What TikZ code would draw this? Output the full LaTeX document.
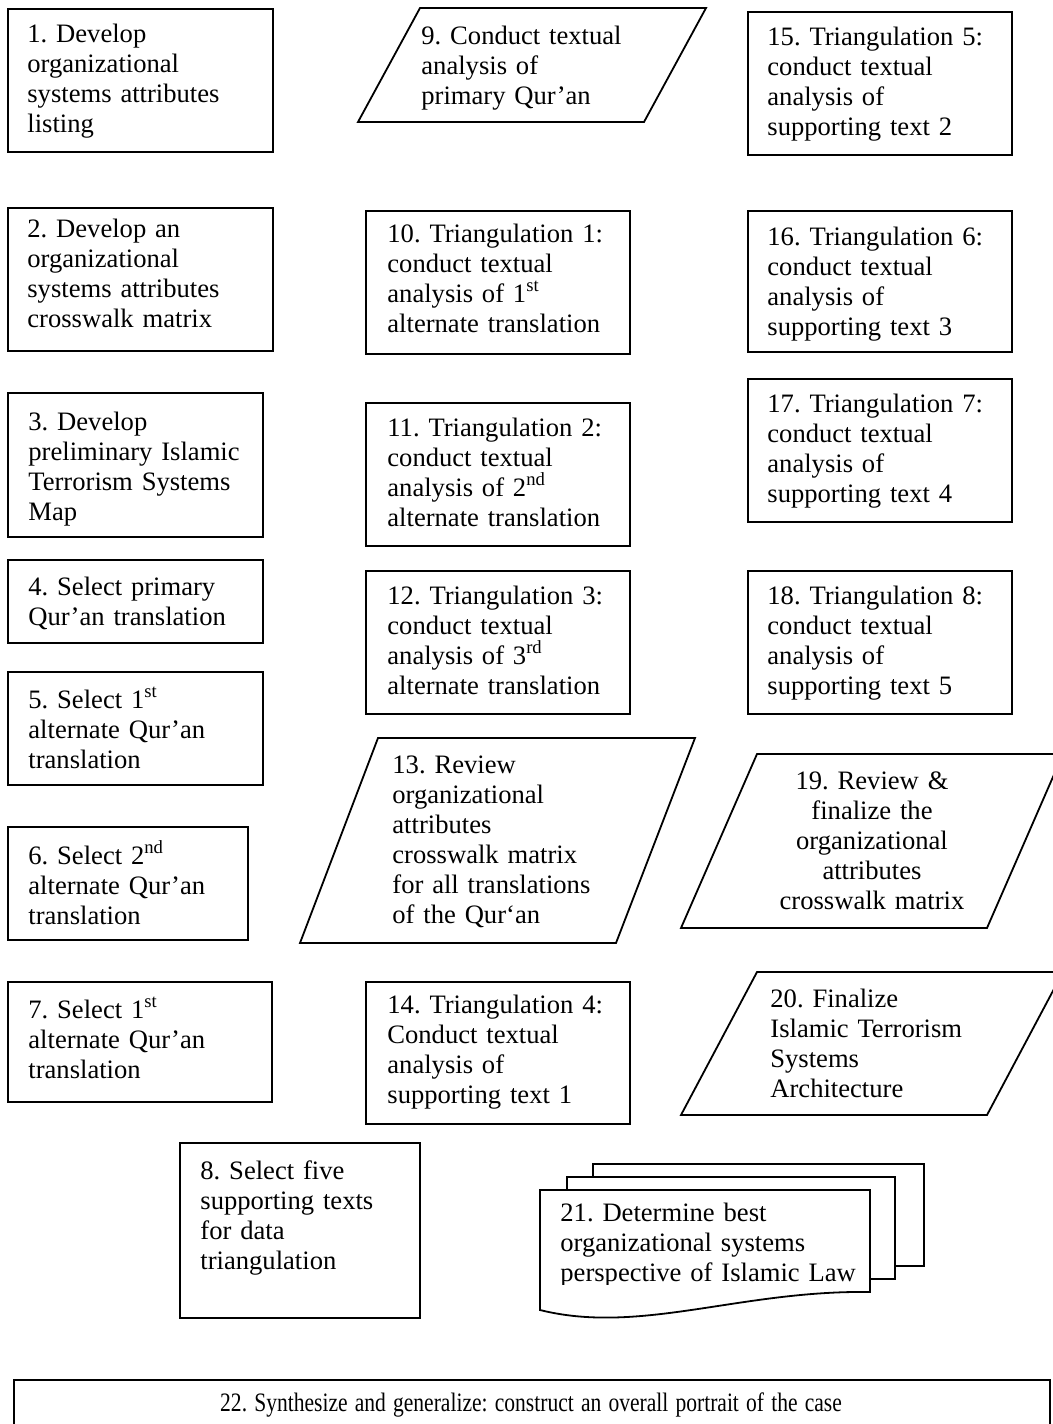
\documentclass[tikz,border=0pt]{standalone}
\usepackage{fontspec}
\setmainfont{Liberation Serif}
\usetikzlibrary{fit}

\tikzset{
  outline/.style={draw=black, line width=0.9pt},
  procbox/.style={outline, inner sep=0pt, rectangle},
  steptext/.style={anchor=base west, inner sep=0pt, text width=220pt, align=left,
    font=\fontsize{13.3}{15}\selectfont\frenchspacing\setlength\lineskiplimit{-20pt}},
  centertext/.style={steptext, anchor=base, align=center, text width=160pt}
}

\begin{document}
\begin{tikzpicture}[x=0.5pt, y=-0.5pt]
\useasboundingbox (0,0) rectangle (1053,1424);
\clip (0,0) rectangle (1053,1424);

% ---- left column: rectangular process boxes ----
\node[procbox, fit={(8,9) (273,152)}] (b1) {};
\node[steptext] (t1) at (27,42) {1. Develop\\organizational\\systems attributes\\listing};

\node[procbox, fit={(8,208) (273,351)}] (b2) {};
\node[steptext] (t2) at (27,237) {2. Develop an\\organizational\\systems attributes\\crosswalk matrix};

\node[procbox, fit={(8,393) (263,537)}] (b3) {};
\node[steptext] (t3) at (28,430) {3. Develop\\preliminary Islamic\\Terrorism Systems\\Map};

\node[procbox, fit={(8,560) (263,643)}] (b4) {};
\node[steptext] (t4) at (28,595) {4. Select primary\\Qur’an translation};

\node[procbox, fit={(8,672) (263,785)}] (b5) {};
\node[steptext] (t5) at (28,708) {5. Select 1\textsuperscript{st}\\alternate Qur’an\\translation};

\node[procbox, fit={(8,827) (248,940)}] (b6) {};
\node[steptext] (t6) at (28,864) {6. Select 2\textsuperscript{nd}\\alternate Qur’an\\translation};

\node[procbox, fit={(8,982) (272,1102)}] (b7) {};
\node[steptext] (t7) at (28,1018) {7. Select 1\textsuperscript{st}\\alternate Qur’an\\translation};

\node[procbox, fit={(180,1143) (420,1318)}] (b8) {};
\node[steptext] (t8) at (200,1179) {8. Select five\\supporting texts\\for data\\triangulation};

% ---- middle column ----
\draw[outline] (420,8) -- (706,8) -- (644,122) -- (358,122) -- cycle;
\node[steptext] (t9) at (421,44) {9. Conduct textual\\analysis of\\primary Qur’an};

\node[procbox, fit={(366,211) (630,354)}] (b10) {};
\node[steptext] (t10) at (387,242) {10. Triangulation 1:\\conduct textual\\analysis of 1\textsuperscript{st}\\alternate translation};

\node[procbox, fit={(366,403) (630,546)}] (b11) {};
\node[steptext] (t11) at (387,436) {11. Triangulation 2:\\conduct textual\\analysis of 2\textsuperscript{nd}\\alternate translation};

\node[procbox, fit={(366,571) (630,714)}] (b12) {};
\node[steptext] (t12) at (387,604) {12. Triangulation 3:\\conduct textual\\analysis of 3\textsuperscript{rd}\\alternate translation};

\draw[outline] (378,738) -- (695,738) -- (616,943) -- (300,943) -- cycle;
\node[steptext] (t13) at (392,773) {13. Review\\organizational\\attributes\\crosswalk matrix\\for all translations\\of the Qur‘an};

\node[procbox, fit={(366,982) (630,1124)}] (b14) {};
\node[steptext] (t14) at (387,1013) {14. Triangulation 4:\\Conduct textual\\analysis of\\supporting text 1};

% ---- right column ----
\node[procbox, fit={(748,12) (1012,155)}] (b15) {};
\node[steptext] (t15) at (767,45) {15. Triangulation 5:\\conduct textual\\analysis of\\supporting text 2};

\node[procbox, fit={(748,211) (1012,352)}] (b16) {};
\node[steptext] (t16) at (767,245) {16. Triangulation 6:\\conduct textual\\analysis of\\supporting text 3};

\node[procbox, fit={(748,379) (1012,522)}] (b17) {};
\node[steptext] (t17) at (767,412) {17. Triangulation 7:\\conduct textual\\analysis of\\supporting text 4};

\node[procbox, fit={(748,571) (1012,714)}] (b18) {};
\node[steptext] (t18) at (767,604) {18. Triangulation 8:\\conduct textual\\analysis of\\supporting text 5};

\draw[outline] (757,754) -- (1063,754) -- (987,928) -- (681,928) -- cycle;
\node[centertext] (t19) at (872,789) {19. Review \&\\finalize the\\organizational\\attributes\\crosswalk matrix};

\draw[outline] (757,972) -- (1063,972) -- (987,1115) -- (681,1115) -- cycle;
\node[steptext] (t20) at (770,1007) {20. Finalize\\Islamic Terrorism\\Systems\\Architecture};

% ---- stacked document symbol ----
\draw[outline] (593,1177) -- (593,1164) -- (924,1164) -- (924,1266) -- (895,1266);
\draw[outline] (567,1190) -- (567,1177) -- (895,1177) -- (895,1279) -- (870,1279);
\draw[outline] (540,1190) -- (870,1190) -- (870,1292)
  .. controls (740,1290) and (640,1335) .. (540,1310) -- cycle;
\begin{scope}
  \clip (540,1190) rectangle (870,1284);
  \node[steptext] (t21) at (560,1221) {21. Determine best\\organizational systems\\perspective of Islamic Law};
\end{scope}

% ---- final synthesis box ----
\node[procbox, fit={(14,1380) (1050,1450)}] (b22) {};
\node[centertext, text width=500pt] (t22) at (531,1411) {\scalebox{0.81}[1]{22. Synthesize and generalize: construct an overall portrait of the case}};
\end{tikzpicture}
\end{document}
